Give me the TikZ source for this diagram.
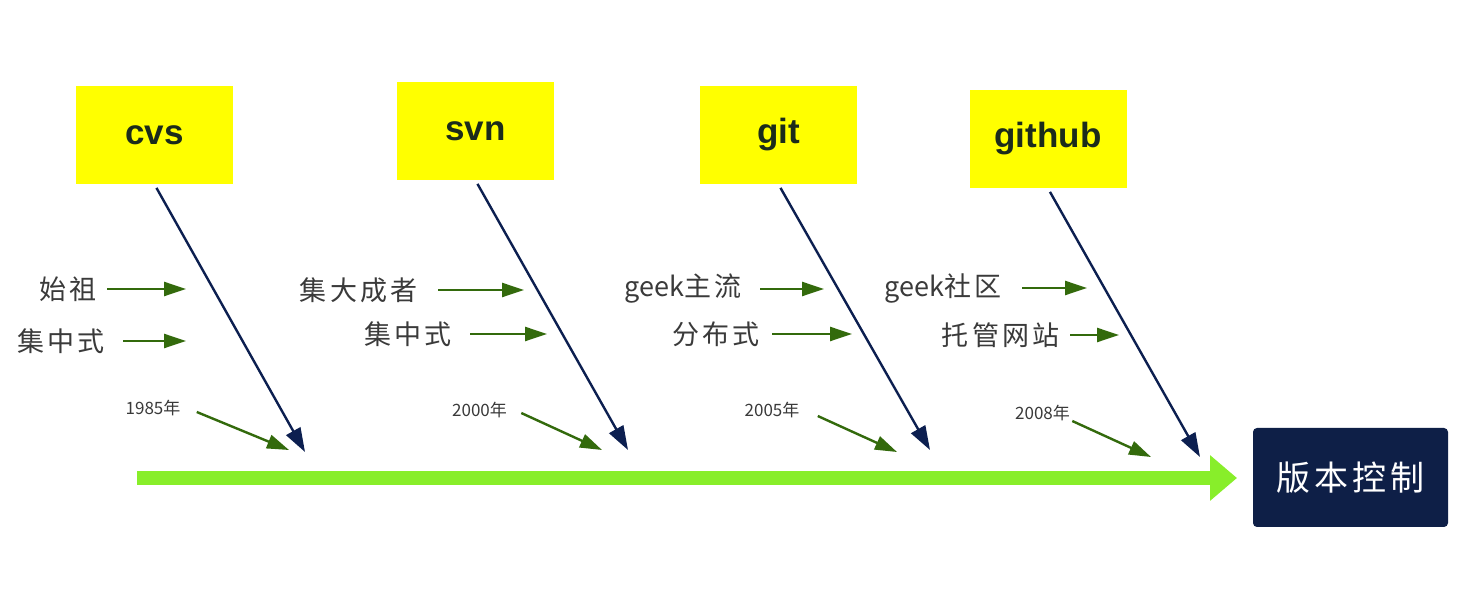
\documentclass[tikz,border=0pt]{standalone}
\usepackage{fontspec}
\setmainfont{Liberation Sans}
\newfontfamily\cjk[LetterSpace=12]{Noto Sans CJK SC}
\newfontfamily\cjkplain{Noto Sans CJK SC}
\usetikzlibrary{arrows.meta}
\definecolor{navy}{HTML}{0C1F50}
\definecolor{dgreen}{HTML}{336A0C}
\definecolor{lgreen}{HTML}{88EE2A}
\definecolor{vcbox}{HTML}{0E1F47}
\definecolor{ybg}{HTML}{FFFF00}
\definecolor{ytext}{HTML}{1B2B1B}
\definecolor{labgray}{HTML}{3A3A3A}
\begin{document}
\begin{tikzpicture}[x=0.5pt,y=-0.5pt,
  ybox/.style={fill=ybg, draw=none, minimum width=78.5pt, minimum height=49pt, inner sep=0pt,
    font=\fontsize{17.5}{20}\selectfont\bfseries, text=ytext},
  vbox/.style={fill=vcbox, draw=none, rounded corners=2pt, minimum width=97.5pt, minimum height=49.5pt,
    inner sep=0pt, font=\cjk\fontsize{17}{20}\selectfont, text=white},
  lab/.style={inner sep=0pt, font=\cjk\fontsize{13.5}{16}\selectfont, text=labgray},
  yr/.style={inner sep=0pt, font=\cjkplain\fontsize{8.5}{10}\selectfont, text=labgray},
  navyarrow/.style={draw=navy, line width=1.2pt, -{Triangle[length=12pt,width=8pt]}, shorten <=2pt},
  garrow/.style={draw=dgreen, line width=1.2pt, -{Triangle[length=11pt,width=7pt]}},
  bigarrow/.style={draw=lgreen, line width=7pt, -{Triangle[length=13.5pt,width=22pt]}}
]
\useasboundingbox[fill=white] (0,0) rectangle (1474,598);

% category boxes
\node[ybox] (cvs) at (154.5,135) {cvs};
\node[ybox] (svn) at (475.5,131) {svn};
\node[ybox] (git) at (778.5,135) {git};
\node[ybox] (github) at (1048,139) {github};
\node[vbox] (vc) at (1350.5,477.5) {版本控制};

% spine
\coordinate (s0) at (137,478);
\coordinate (s1) at (1237,478);
\draw[bigarrow] (s0) -- (s1);

% main bones
\coordinate (t1) at (305,452);
\coordinate (t2) at (628,450);
\coordinate (t3) at (930,450);
\coordinate (t4) at (1200,457);
\draw[navyarrow] (cvs.south) -- (t1);
\draw[navyarrow] (svn.south) -- (t2);
\draw[navyarrow] (git.south) -- (t3);
\draw[navyarrow] (github.south) -- (t4);

% cvs labels
\node[lab, anchor=east] (a1) at (97,289) {始祖};
\coordinate (e1) at (186,289);
\draw[garrow, shorten <=5pt] (a1) -- (e1);
\node[lab, anchor=east] (a2) at (105,341) {集中式};
\coordinate (e2) at (186,341);
\draw[garrow, shorten <=9pt] (a2) -- (e2);

% svn labels
\node[lab, anchor=east] (b1) at (418,290) {集大成者};
\coordinate (f1) at (524,290);
\draw[garrow, shorten <=10pt] (b1) -- (f1);
\node[lab, anchor=east] (b2) at (452,334) {集中式};
\coordinate (f2) at (547,334);
\draw[garrow, shorten <=9pt] (b2) -- (f2);

% git labels
\node[lab, anchor=east] (c1) at (742,289) {{\cjkplain geek}主流};
\coordinate (g1) at (824,289);
\draw[garrow, shorten <=9pt] (c1) -- (g1);
\node[lab, anchor=east] (c2) at (760,334) {分布式};
\coordinate (g2) at (852,334);
\draw[garrow, shorten <=6pt] (c2) -- (g2);

% github labels
\node[lab, anchor=east] (d1) at (1002,288) {{\cjkplain geek}社区};
\coordinate (h1) at (1087,288);
\draw[garrow, shorten <=10pt] (d1) -- (h1);
\node[lab, anchor=east] (d2) at (1060,335) {托管网站};
\coordinate (h2) at (1119,335);
\draw[garrow, shorten <=5pt] (d2) -- (h2);

% years
\node[yr] (y1) at (153,408) {1985年};
\coordinate (ye1) at (289,450);
\draw[garrow] ([xshift=8pt,yshift=-2pt]y1.east) -- (ye1);
\node[yr] (y2) at (479.5,410) {2000年};
\coordinate (ye2) at (602,450);
\draw[garrow] ([xshift=7pt,yshift=-1.5pt]y2.east) -- (ye2);
\node[yr] (y3) at (772,410) {2005年};
\coordinate (ye3) at (897,452);
\draw[garrow] ([xshift=9pt,yshift=-3pt]y3.east) -- (ye3);
\node[yr] (y4) at (1042.5,413) {2008年};
\coordinate (ye4) at (1151,457);
\draw[garrow] ([xshift=1pt,yshift=-4pt]y4.east) -- (ye4);
\end{tikzpicture}
\end{document}
